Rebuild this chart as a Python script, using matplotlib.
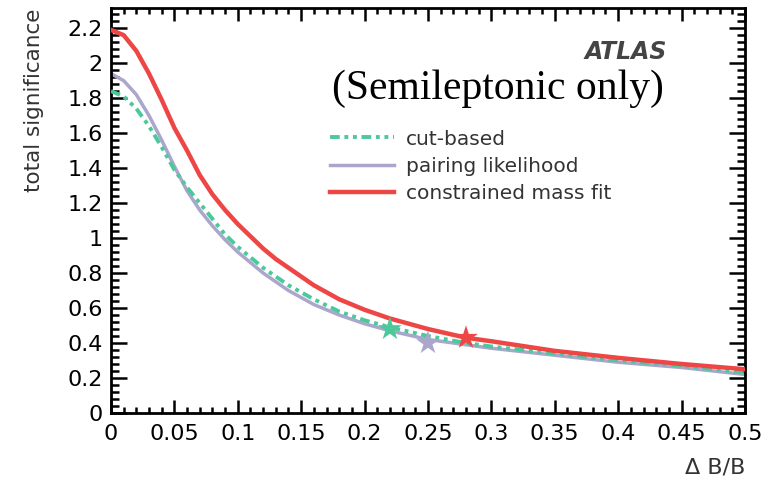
import numpy as np
import matplotlib.pyplot as plt
from matplotlib.ticker import MultipleLocator

# Delta B / B values where each curve was read
x = [0, 0.01, 0.02, 0.03, 0.04, 0.05, 0.06, 0.07, 0.08, 0.09, 0.10, 0.11, 0.12,
     0.13, 0.14, 0.15, 0.16, 0.18, 0.20, 0.22, 0.25, 0.28, 0.30, 0.35, 0.40,
     0.45, 0.50]

cut_based = [1.84, 1.81, 1.74, 1.64, 1.52, 1.39, 1.29, 1.20, 1.11, 1.02, 0.95,
             0.89, 0.83, 0.78, 0.73, 0.69, 0.65, 0.58, 0.53, 0.49, 0.44, 0.40,
             0.38, 0.34, 0.30, 0.27, 0.23]
pairing = [1.94, 1.90, 1.82, 1.70, 1.56, 1.41, 1.27, 1.16, 1.07, 0.99, 0.92,
           0.86, 0.80, 0.75, 0.70, 0.66, 0.62, 0.56, 0.51, 0.47, 0.42, 0.39,
           0.37, 0.33, 0.29, 0.26, 0.22]
mass_fit = [2.19, 2.16, 2.07, 1.94, 1.79, 1.63, 1.50, 1.36, 1.25, 1.16, 1.08,
            1.01, 0.94, 0.88, 0.83, 0.78, 0.73, 0.65, 0.59, 0.54, 0.48, 0.43,
            0.41, 0.355, 0.315, 0.28, 0.25]

# working points (stars)
star_x = [0.22, 0.25, 0.28]
star_y = [0.48, 0.40, 0.43]

green = '#4cc99a'
purple = '#aaa6cc'
red = '#ee4545'
star_colors = [green, purple, red]

plt.rcParams['font.family'] = ['DejaVu Sans']

fig = plt.figure(figsize=(7.76, 4.83), dpi=100)
ax = fig.add_axes([0.143, 0.145, 0.817, 0.838])

ax.plot(x, pairing, color=purple, lw=2.5, label='pairing likelihood', zorder=2)
ax.plot(x, cut_based, color=green, lw=2.8, ls=(0, (2.5, 1.2, 1, 1.2, 1, 1.2)),
        label='cut-based', zorder=3)
ax.plot(x, mass_fit, color=red, lw=3.2, label='constrained mass fit', zorder=4)
ax.scatter(star_x, star_y, marker='*', s=320, c=star_colors, zorder=5,
           edgecolors='none')

ax.set_xlim(0, 0.5)
ax.set_ylim(0, 2.314)
ax.xaxis.set_minor_locator(MultipleLocator(0.01))
ax.yaxis.set_minor_locator(MultipleLocator(0.04))
ax.set_xticks(np.arange(0, 0.51, 0.05))
ax.set_xticklabels(['0', '0.05', '0.1', '0.15', '0.2', '0.25', '0.3', '0.35',
                    '0.4', '0.45', '0.5'])
ax.set_yticks(np.arange(0, 2.21, 0.2))
ax.set_yticklabels(['0', '0.2', '0.4', '0.6', '0.8', '1', '1.2', '1.4', '1.6',
                    '1.8', '2', '2.2'])
ax.tick_params(which='both', direction='in', top=True, right=True, width=1.8,
               labelsize=16)
ax.tick_params(axis='x', which='major', length=9.5, pad=8)
ax.tick_params(axis='x', which='minor', length=4.5)
ax.tick_params(axis='y', which='major', length=11.5, pad=6)
ax.tick_params(axis='y', which='minor', length=6)
for s in ax.spines.values():
    s.set_linewidth(2)

ax.set_ylabel('total significance', fontsize=15.5, color='#333333', loc='top',
              labelpad=17)
ax.set_xlabel('Δ B/B', fontsize=16, color='#333333', loc='right', labelpad=10)

ax.text(0.877, 0.891, 'ATLAS', transform=ax.transAxes, fontsize=17,
        fontweight='bold', style='italic', color='#444444', ha='right',
        va='center')
ax.text(0.349, 0.775, '(Semileptonic only)', transform=ax.transAxes,
        fontsize=30, family='Liberation Serif', va='baseline')

h, l = ax.get_legend_handles_labels()
order = [1, 0, 2]
ax.legend([h[i] for i in order], [l[i] for i in order], loc='center left',
          bbox_to_anchor=(0.345, 0.61), frameon=False, fontsize=14.5,
          handlelength=3.2, handletextpad=0.6, labelspacing=0.4,
          borderpad=0, borderaxespad=0, labelcolor='#333333')

fig.savefig('out.png', dpi=100)
